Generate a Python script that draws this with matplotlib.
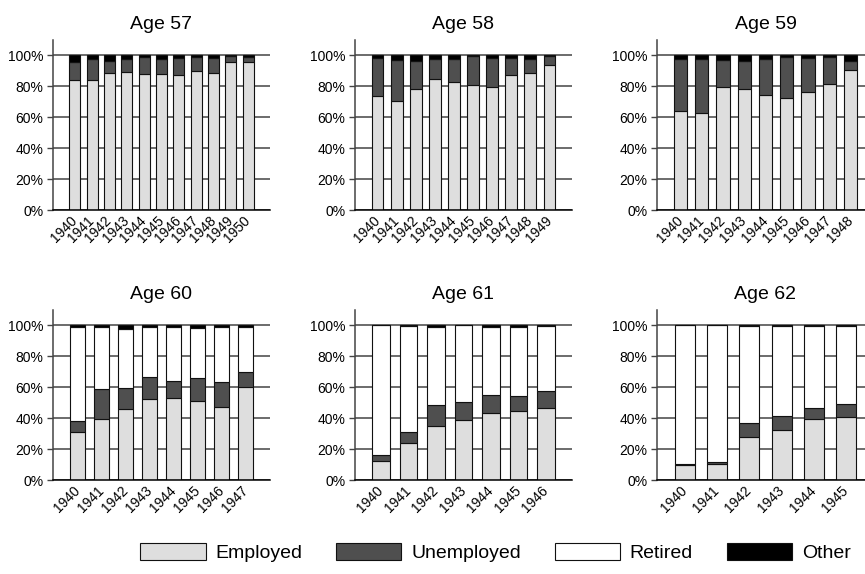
import matplotlib
matplotlib.use("Agg")
import matplotlib.pyplot as plt
from matplotlib.patches import Patch
from matplotlib.ticker import PercentFormatter

plt.rcParams['font.family'] = ['Liberation Sans', 'DejaVu Sans']

# 每個年齡的資料 (百分比，依序為 Employed / Unemployed / Retired / Other)
years_57 = [1940, 1941, 1942, 1943, 1944, 1945, 1946, 1947, 1948, 1949, 1950]
emp_57 = [84.1, 84.1, 88.6, 88.8, 88.0, 88.0, 87.3, 89.9, 88.6, 95.5, 95.5]
unemp_57 = [11.4, 13.3, 7.5, 8.6, 10.5, 9.4, 10.8, 8.6, 9.5, 3.6, 3.2]
ret_57 = [0, 0, 0, 0, 0, 0, 0, 0, 0, 0, 0]
oth_57 = [4.5, 2.6, 3.9, 2.6, 1.5, 2.6, 1.9, 1.5, 1.9, 0.9, 1.3]

years_58 = [1940, 1941, 1942, 1943, 1944, 1945, 1946, 1947, 1948, 1949]
emp_58 = [73.6, 70.6, 78.1, 84.8, 82.6, 80.9, 79.4, 87.3, 88.4, 93.6]
unemp_58 = [24.5, 26.4, 18.0, 12.8, 15.0, 18.7, 18.5, 10.6, 9.0, 5.5]
ret_58 = [0, 0, 0, 0, 0, 0, 0, 0, 0, 0]
oth_58 = [1.9, 3.0, 3.9, 2.4, 2.4, 0.4, 2.1, 2.1, 2.6, 0.9]

years_59 = [1940, 1941, 1942, 1943, 1944, 1945, 1946, 1947, 1948]
emp_59 = [63.7, 62.9, 79.4, 78.1, 74.0, 72.3, 76.0, 81.3, 90.1]
unemp_59 = [33.5, 34.3, 17.4, 17.8, 23.6, 26.7, 22.1, 17.4, 6.0]
ret_59 = [0, 0, 0, 0, 0, 0, 0, 0, 0]
oth_59 = [2.8, 2.8, 3.2, 4.1, 2.4, 1.0, 1.9, 1.3, 3.9]

years_60 = [1940, 1941, 1942, 1943, 1944, 1945, 1946, 1947]
emp_60 = [31.0, 39.4, 45.8, 52.5, 52.9, 51.0, 46.9, 60.0]
unemp_60 = [7.1, 19.5, 13.7, 13.9, 11.3, 15.0, 16.5, 9.8]
ret_60 = [60.8, 40.0, 37.7, 32.1, 34.5, 32.1, 35.5, 28.7]
oth_60 = [1.1, 1.1, 2.8, 1.5, 1.3, 1.9, 1.1, 1.5]

years_61 = [1940, 1941, 1942, 1943, 1944, 1945, 1946]
emp_61 = [12.4, 24.0, 34.7, 39.0, 43.3, 44.5, 46.3]
unemp_61 = [3.9, 7.0, 13.7, 11.5, 11.7, 9.9, 11.3]
ret_61 = [83.4, 68.4, 50.3, 49.3, 43.9, 44.1, 42.0]
oth_61 = [0.3, 0.6, 1.3, 0.2, 1.1, 1.5, 0.4]

years_62 = [1940, 1941, 1942, 1943, 1944, 1945]
emp_62 = [9.4, 10.5, 27.8, 32.5, 39.2, 40.9]
unemp_62 = [1.1, 0.8, 9.0, 9.0, 7.1, 8.4]
ret_62 = [89.5, 88.5, 62.8, 58.1, 52.8, 49.8]
oth_62 = [0.0, 0.2, 0.4, 0.4, 0.9, 0.9]

panels = [
    ("Age 57", years_57, emp_57, unemp_57, ret_57, oth_57),
    ("Age 58", years_58, emp_58, unemp_58, ret_58, oth_58),
    ("Age 59", years_59, emp_59, unemp_59, ret_59, oth_59),
    ("Age 60", years_60, emp_60, unemp_60, ret_60, oth_60),
    ("Age 61", years_61, emp_61, unemp_61, ret_61, oth_61),
    ("Age 62", years_62, emp_62, unemp_62, ret_62, oth_62),
]

labels = ["Employed", "Unemployed", "Retired", "Other"]
colors = ["#dedede", "#4f4f4f", "#ffffff", "#000000"]

W, H = 865, 574
fig = plt.figure(figsize=(W / 100, H / 100), dpi=100)

# 軸的位置 (像素)，右邊那一欄超出圖片邊界
lefts = [53, 355, 657]
tops = [40, 310]
ax_w, ax_h = 217, 170

for k, (title, years, emp, unemp, ret, oth) in enumerate(panels):
    row, col = divmod(k, 3)
    ax = fig.add_axes([lefts[col] / W, (H - tops[row] - ax_h) / H, ax_w / W, ax_h / H])
    n = len(years)
    x = list(range(n))
    bottom = [0.0] * n
    for vals, c in zip([emp, unemp, ret, oth], colors):
        v = [a / 100 for a in vals]
        ax.bar(x, v, 0.62, bottom=bottom, color=c, edgecolor="#111111", linewidth=0.8, zorder=2)
        bottom = [b + a for b, a in zip(bottom, v)]

    m = 0.4 + 0.078 * n
    ax.set_xlim(-m, n - 1 + m)
    ax.set_ylim(0, 1.097)
    ax.set_yticks([0, 0.2, 0.4, 0.6, 0.8, 1.0])
    ax.yaxis.set_major_formatter(PercentFormatter(1.0, decimals=0))
    ax.set_xticks(x)
    # 45 度的年份標籤，以右端中點對齊刻度
    ax.set_xticklabels([str(y) for y in years], rotation=45, ha="right", va="center",
                       rotation_mode="anchor", fontsize=10)
    ax.tick_params(axis="x", length=0, pad=6)
    ax.tick_params(axis="y", length=4, width=1, color="#444444", pad=3, labelsize=10)
    ax.grid(axis="y", color="#444444", linewidth=1.1, zorder=0)
    ax.set_axisbelow(True)
    for s in ["top", "right"]:
        ax.spines[s].set_visible(False)
    ax.spines["left"].set_color("#444444")
    ax.spines["bottom"].set_color("#000000")
    ax.spines["left"].set_linewidth(1.1)
    ax.spines["bottom"].set_linewidth(1.1)
    ax.set_title(title, fontsize=14, pad=8)

# 圖例放在下方 (原圖較寬，被裁掉右側，所以中心偏右)
handles = [Patch(facecolor=c, edgecolor="#111111", linewidth=0.8) for c in colors]
fig.legend(handles, labels, loc="center", bbox_to_anchor=(0.573, 0.038), ncol=4, frameon=False,
           fontsize=14, handlelength=3.35, handleheight=1.0, handletextpad=0.5, columnspacing=1.75)

fig.savefig("out.png", dpi=100)
